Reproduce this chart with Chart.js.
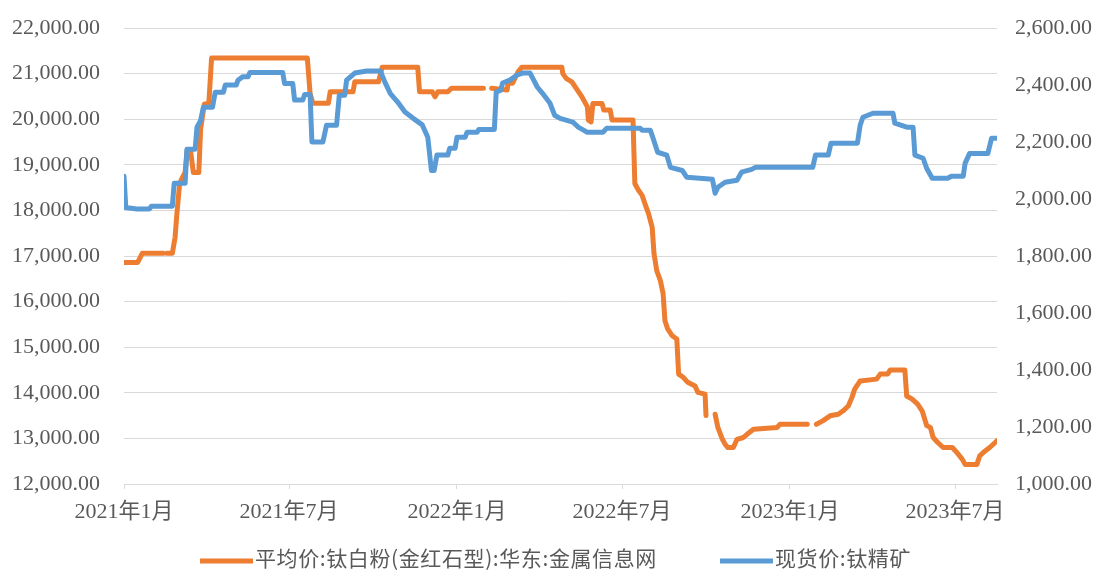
<!DOCTYPE html>
<html><head><meta charset="utf-8">
<script src="https://cdn.jsdelivr.net/npm/chart.js@4.4.0/dist/chart.umd.min.js"></script>
<style>html,body{margin:0;padding:0;background:#fff;}#wrap{width:1096px;height:571px;}</style>
</head><body><div id="wrap"><canvas id="c" width="1096" height="571"></canvas></div>
<script>
const seriesNames = ['平均价:钛白粉(金红石型):华东:金属信息网', '现货价:钛精矿'];
const tickDates = ['2021-01-01','2021-07-01','2022-01-01','2022-07-01','2023-01-01','2023-07-01'];
const tickLabels = ['2021年1月','2021年7月','2022年1月','2022年7月','2023年1月','2023年7月'];

const tio2Dates = ['2021-01-01','2021-01-16','2021-01-21','2021-02-13','2021-02-15','2021-02-17','2021-02-23','2021-02-26','2021-02-28','2021-03-03','2021-03-06','2021-03-09','2021-03-11','2021-03-15','2021-03-18','2021-03-24','2021-03-26','2021-03-30','2021-04-04','2021-04-07','2021-07-21','2021-07-24','2021-07-27','2021-08-13','2021-08-15','2021-09-09','2021-09-11','2021-10-07','2021-10-11','2021-11-19','2021-11-21','2021-12-05','2021-12-08','2021-12-11','2021-12-22','2021-12-26','2022-01-30','2022-02-02','2022-02-08','2022-02-25','2022-02-26','2022-03-03','2022-03-09','2022-03-13','2022-04-26','2022-04-27','2022-05-01','2022-05-07','2022-05-13','2022-05-18','2022-05-24','2022-05-25','2022-05-28','2022-05-30','2022-06-09','2022-06-11','2022-06-18','2022-06-20','2022-07-13','2022-07-15','2022-07-19','2022-07-23','2022-07-26','2022-07-30','2022-08-03','2022-08-05','2022-08-08','2022-08-12','2022-08-15','2022-08-17','2022-08-20','2022-08-25','2022-08-30','2022-09-01','2022-09-06','2022-09-11','2022-09-19','2022-09-22','2022-09-30','2022-10-01','2022-10-06','2022-10-11','2022-10-14','2022-10-19','2022-10-22','2022-10-25','2022-10-31','2022-11-04','2022-11-11','2022-11-15','2022-11-22','2022-12-18','2022-12-21','2023-01-20','2023-01-25','2023-01-30','2023-02-06','2023-02-14','2023-02-23','2023-02-28','2023-03-06','2023-03-10','2023-03-13','2023-03-19','2023-04-06','2023-04-10','2023-04-18','2023-04-21','2023-05-07','2023-05-09','2023-05-15','2023-05-21','2023-05-26','2023-05-31','2023-06-04','2023-06-07','2023-06-12','2023-06-18','2023-06-28','2023-07-03','2023-07-09','2023-07-12','2023-07-25','2023-07-28','2023-08-03','2023-08-08','2023-08-14','2023-08-16'];
const tio2Values = [16860,16860,17060,17060,null,17060,17060,17410,17930,18590,18720,18830,19300,19300,18830,18830,19780,20330,20350,21340,21340,20560,20350,20350,20600,20600,20820,20820,21140,21140,20600,20600,20490,20600,20600,20680,20680,null,20680,20640,20790,20790,21040,21140,21140,21000,20890,20820,20640,20490,20270,19980,19940,20345,20345,20200,20200,19980,19980,18590,18440,18330,18150,17930,17630,17050,16680,16460,16170,15580,15400,15250,15180,14410,14340,14230,14150,14010,13970,13500,null,13530,13240,12980,12870,12800,12800,12980,13020,13090,13200,13240,13310,13310,null,13310,13385,13495,13530,13600,13710,13900,14080,14260,14300,14410,14410,14500,14500,13930,13860,13750,13600,13280,13240,13020,12910,12800,12800,12690,12540,12430,12430,12615,12725,12800,12910,12950];

const ilmDates = ['2021-01-01','2021-01-03','2021-01-15','2021-01-29','2021-01-31','2021-02-23','2021-02-25','2021-03-09','2021-03-11','2021-03-20','2021-03-22','2021-03-26','2021-03-29','2021-04-08','2021-04-11','2021-04-20','2021-04-22','2021-05-04','2021-05-06','2021-05-11','2021-05-17','2021-05-19','2021-06-24','2021-06-26','2021-07-05','2021-07-07','2021-07-16','2021-07-18','2021-07-24','2021-07-26','2021-08-07','2021-08-11','2021-08-22','2021-08-25','2021-08-31','2021-09-02','2021-09-11','2021-09-24','2021-10-09','2021-10-14','2021-10-20','2021-10-28','2021-11-05','2021-11-14','2021-11-24','2021-11-30','2021-12-04','2021-12-07','2021-12-10','2021-12-22','2021-12-24','2021-12-30','2022-01-01','2022-01-10','2022-01-12','2022-01-23','2022-01-25','2022-02-11','2022-02-13','2022-02-18','2022-02-20','2022-02-28','2022-03-08','2022-03-14','2022-03-22','2022-03-25','2022-03-30','2022-04-05','2022-04-13','2022-04-18','2022-04-24','2022-05-08','2022-05-14','2022-05-24','2022-06-10','2022-06-14','2022-07-21','2022-07-23','2022-08-01','2022-08-04','2022-08-09','2022-08-19','2022-08-23','2022-09-05','2022-09-10','2022-10-08','2022-10-11','2022-10-14','2022-10-22','2022-11-04','2022-11-09','2022-11-20','2022-11-24','2023-01-26','2023-01-29','2023-02-12','2023-02-15','2023-03-16','2023-03-19','2023-03-22','2023-04-02','2023-04-24','2023-04-26','2023-05-09','2023-05-16','2023-05-18','2023-05-27','2023-05-31','2023-06-06','2023-06-23','2023-06-27','2023-07-10','2023-07-12','2023-07-17','2023-08-06','2023-08-10','2023-08-16'];
const ilmValues = [2080,1970,1965,1965,1975,1975,2055,2055,2175,2175,2252,2276,2322,2322,2375,2375,2400,2400,2417,2429,2429,2444,2444,2405,2405,2347,2347,2367,2367,2200,2200,2259,2259,2364,2364,2417,2442,2449,2449,2410,2370,2340,2305,2283,2260,2217,2100,2100,2154,2154,2178,2178,2217,2217,2234,2234,2244,2244,2375,2382,2407,2417,2435,2442,2442,2424,2393,2370,2336,2294,2283,2270,2252,2234,2234,2248,2248,2241,2241,2213,2164,2154,2111,2100,2076,2069,2020,2041,2059,2066,2094,2104,2111,2111,2154,2154,2196,2196,2259,2287,2301,2301,2266,2252,2252,2154,2143,2107,2073,2073,2080,2080,2125,2160,2160,2213,2213];

function dayOf(s) {
  const p = s.split('-').map(Number);
  return Math.round((Date.UTC(p[0], p[1] - 1, p[2]) - Date.UTC(2021, 0, 1)) / 86400000);
}
const tickDays = tickDates.map(dayOf);
const toPoints = (dates, vals) => dates.map((d, i) => ({x: dayOf(d), y: vals[i]}));
function fmt(v) {
  const parts = Number(v).toFixed(2).split('.');
  return parts[0].replace(/\B(?=(\d{3})+$)/g, ',') + '.' + parts[1];
}
const axisFont = {family: "'Liberation Serif', 'Noto Sans CJK SC'", size: 22};
const textColor = '#595959';
const gridColor = '#d9d9d9';

const bottomLegend = {
  id: 'bottomLegend',
  afterDraw(chart) {
    const ctx = chart.ctx;
    ctx.save();
    ctx.font = "21px 'Noto Sans CJK SC'";
    if ('letterSpacing' in ctx) ctx.letterSpacing = '0.6px';
    ctx.textBaseline = 'middle';
    ctx.textAlign = 'left';
    ctx.fillStyle = textColor;
    const symStarts = [200, 720], symW = 53, gapT = 2, cy = 558;
    chart.data.datasets.forEach((d, i) => {
      const x = symStarts[i];
      ctx.strokeStyle = d.borderColor;
      ctx.lineWidth = d.borderWidth;
      ctx.lineCap = 'butt';
      ctx.beginPath(); ctx.moveTo(x, cy + 3); ctx.lineTo(x + symW, cy + 3); ctx.stroke();
      ctx.fillText(d.label, x + symW + gapT, cy);
    });
    ctx.restore();
  }
};

new Chart(document.getElementById('c'), {
  type: 'line',
  data: {
    datasets: [
      {label: seriesNames[0], data: toPoints(tio2Dates, tio2Values), yAxisID: 'y', borderColor: '#ED7D31', backgroundColor: '#ED7D31', borderWidth: 5, order: 1},
      {label: seriesNames[1], data: toPoints(ilmDates, ilmValues), yAxisID: 'y1', borderColor: '#5B9BD5', backgroundColor: '#5B9BD5', borderWidth: 5, order: 0}
    ]
  },
  options: {
    responsive: false, animation: false, devicePixelRatio: 1,
    layout: {padding: {top: 28, left: 0, right: 0, bottom: 0}},
    spanGaps: false,
    elements: {point: {radius: 0, hoverRadius: 0}, line: {tension: 0, borderJoinStyle: 'round', borderCapStyle: 'round'}},
    plugins: {legend: {display: false}, tooltip: {enabled: false}},
    scales: {
      x: {
        type: 'linear', min: dayOf(tio2Dates[0]), max: dayOf(tio2Dates[tio2Dates.length - 1]),
        afterFit: s => { s.height = 87; },
        afterBuildTicks: s => { s.ticks = tickDays.map(v => ({value: v})); },
        ticks: {autoSkip: false, maxRotation: 0, padding: 10, color: textColor, font: axisFont,
          callback: v => { const i = tickDays.indexOf(v); return i >= 0 ? tickLabels[i] : ''; }},
        grid: {drawOnChartArea: false, drawTicks: true, tickLength: 5, color: gridColor},
        border: {color: gridColor}
      },
      y: {
        position: 'left', min: 12000, max: 22000,
        afterFit: s => { s.width = 124; },
        ticks: {stepSize: 1000, padding: 2, color: textColor, font: axisFont, callback: v => fmt(v)},
        grid: {color: gridColor, drawTicks: true, tickLength: 22, tickColor: 'rgba(0,0,0,0)'},
        border: {display: false}
      },
      y1: {
        position: 'right', min: 1000, max: 2600,
        afterFit: s => { s.width = 99; },
        ticks: {stepSize: 200, padding: 2, color: textColor, font: axisFont, callback: v => fmt(v)},
        grid: {drawOnChartArea: false, drawTicks: true, tickLength: 16, tickColor: 'rgba(0,0,0,0)'},
        border: {display: false}
      }
    }
  },
  plugins: [bottomLegend]
});
</script></body></html>
